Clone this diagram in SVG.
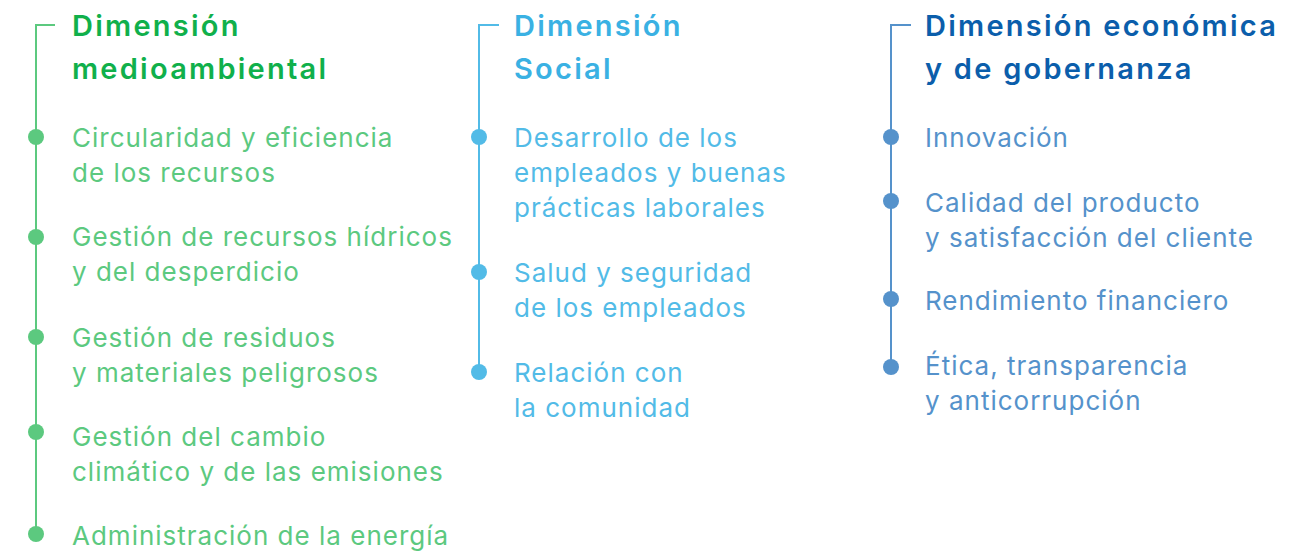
<svg xmlns="http://www.w3.org/2000/svg" width="1303" height="551" viewBox="0 0 1303 551">
<style>
.t{font-family:Inter,"Liberation Sans",sans-serif;font-size:29px;font-weight:600;letter-spacing:2.25px}
.i{font-family:Inter,"Liberation Sans",sans-serif;font-size:26px;font-weight:400;letter-spacing:1px}
.ln{fill:none;stroke-width:2}
.g1{fill:#10b04b}.g2{fill:#5cc97f}.gs{stroke:#5cc97f}
.b1{fill:#3ab1e3}.b2{fill:#52bbe7}.bs{stroke:#52bbe7}
.d1{fill:#0b5eab}.d2{fill:#5592cb}.ds{stroke:#5592cb}
</style>
<rect width="1303" height="551" fill="#ffffff"/>
<g id="connectors">
<polyline class="ln gs" points="55,25 36,25 36,535"/>
<polyline class="ln bs" points="499,25 479,25 479,372"/>
<polyline class="ln ds" points="911,25 891,25 891,367"/>
</g>
<g id="col-medioambiental">
<text class="t g1" x="72" y="36">Dimensión</text>
<text class="t g1" x="72" y="79">medioambiental</text>
<g id="m1"><circle class="g2" cx="36" cy="137" r="8"/><text class="i g2" x="72" y="147">Circularidad y eficiencia</text><text class="i g2" x="72" y="182">de los recursos</text></g>
<g id="m2"><circle class="g2" cx="36" cy="237" r="8"/><text class="i g2" x="72" y="246">Gestión de recursos hídricos</text><text class="i g2" x="72" y="281">y del desperdicio</text></g>
<g id="m3"><circle class="g2" cx="36" cy="337" r="8"/><text class="i g2" x="72" y="347">Gestión de residuos</text><text class="i g2" x="72" y="382">y materiales peligrosos</text></g>
<g id="m4"><circle class="g2" cx="36" cy="432" r="8"/><text class="i g2" x="72" y="446">Gestión del cambio</text><text class="i g2" x="72" y="481">climático y de las emisiones</text></g>
<g id="m5"><circle class="g2" cx="36" cy="534" r="8"/><text class="i g2" x="72" y="545">Administración de la energía</text></g>
</g>
<g id="col-social">
<text class="t b1" x="514" y="36">Dimensión</text>
<text class="t b1" x="514" y="79">Social</text>
<g id="s1"><circle class="b2" cx="479" cy="137" r="8"/><text class="i b2" x="514" y="147">Desarrollo de los</text><text class="i b2" x="514" y="182">empleados y buenas</text><text class="i b2" x="514" y="217">prácticas laborales</text></g>
<g id="s2"><circle class="b2" cx="479" cy="272" r="8"/><text class="i b2" x="514" y="282">Salud y seguridad</text><text class="i b2" x="514" y="317">de los empleados</text></g>
<g id="s3"><circle class="b2" cx="479" cy="372" r="8"/><text class="i b2" x="514" y="382">Relación con</text><text class="i b2" x="514" y="417">la comunidad</text></g>
</g>
<g id="col-economica">
<text class="t d1" x="925" y="36">Dimensión económica</text>
<text class="t d1" x="925" y="79">y de gobernanza</text>
<g id="e1"><circle class="d2" cx="891" cy="137" r="8"/><text class="i d2" x="925" y="147">Innovación</text></g>
<g id="e2"><circle class="d2" cx="891" cy="201" r="8"/><text class="i d2" x="925" y="212">Calidad del producto</text><text class="i d2" x="925" y="247">y satisfacción del cliente</text></g>
<g id="e3"><circle class="d2" cx="891" cy="299" r="8"/><text class="i d2" x="925" y="310">Rendimiento financiero</text></g>
<g id="e4"><circle class="d2" cx="891" cy="367" r="8"/><text class="i d2" x="925" y="375">Ética, transparencia</text><text class="i d2" x="925" y="410">y anticorrupción</text></g>
</g>
</svg>
